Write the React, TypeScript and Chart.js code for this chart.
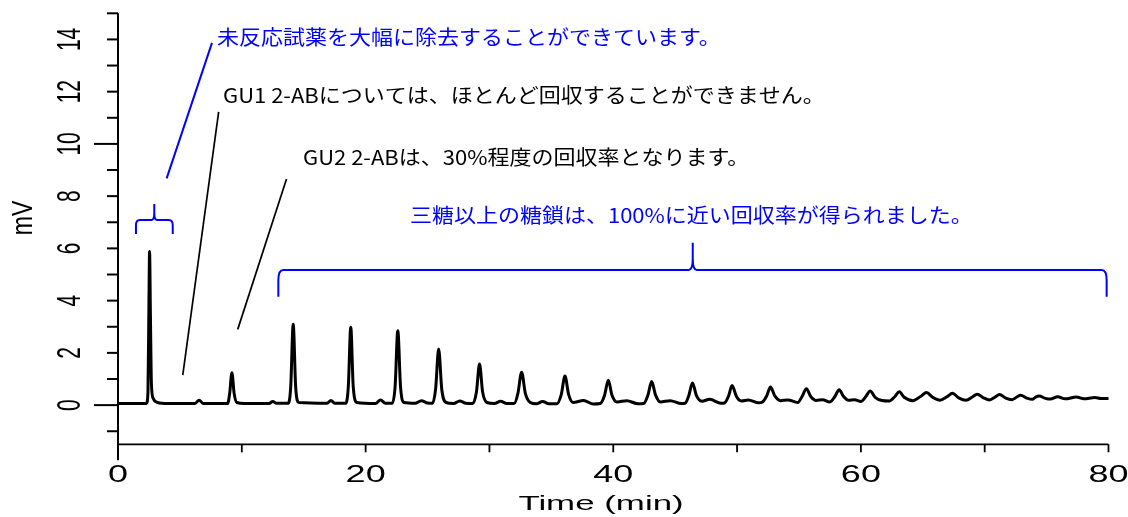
import React, { useEffect, useRef } from "react";
import { Chart, registerables } from "chart.js";

Chart.register(...registerables);

// ---- chromatogram data (time in min, signal in mV) ----
const timeMin = [
  0, 2.3, 2.42, 2.5, 2.55, 2.62, 2.7, 2.85, 3.2, 4.0,
  6.2, 6.55, 6.9, 8.85, 9.02, 9.2, 9.38, 9.6, 10.2,
  12.2, 12.5, 12.8, 13.75, 13.95, 14.15, 14.35, 14.6,
  16.9, 17.2, 17.5, 18.4, 18.6, 18.8, 19.0, 19.3,
  20.8, 21.2, 21.6, 22.15, 22.38, 22.6, 22.82, 23.1,
  24.0, 24.5, 25.0, 25.4, 25.65, 25.9, 26.15, 26.5,
  27.1, 27.6, 28.1, 28.65, 28.95, 29.2, 29.45, 29.8,
  30.4, 30.9, 31.4, 32.0, 32.3, 32.6, 32.9, 33.3,
  33.8, 34.3, 34.8, 35.45, 35.8, 36.1, 36.4, 36.75,
  37.6, 38.4, 38.95, 39.3, 39.6, 39.9, 40.3,
  41.1, 42.0, 42.45, 42.8, 43.1, 43.42, 43.8,
  44.6, 45.5, 45.8, 46.1, 46.4, 46.72, 47.15,
  47.8, 48.7, 49.0, 49.3, 49.6, 49.95, 50.35,
  50.9, 51.75, 52.05, 52.4, 52.7, 53.05, 53.5,
  54.1, 54.9, 55.25, 55.6, 55.95, 56.4,
  56.9, 57.5, 57.9, 58.25, 58.6, 59.0,
  59.5, 60.0, 60.4, 60.75, 61.15, 61.7,
  62.3, 62.75, 63.1, 63.5, 64.2, 64.85, 65.3, 65.8, 66.4,
  66.95, 67.4, 67.9, 68.5, 69.0, 69.4, 69.9, 70.4,
  70.85, 71.2, 71.7, 72.2, 72.6, 72.9, 73.4, 73.85,
  74.1, 74.4, 74.9, 75.3, 75.9, 76.5, 77.4, 78.0, 78.9, 79.4, 80.0,
];
const signalMv = [
  0.06, 0.06, 0.5, 4.0, 5.88, 3.4, 0.8, 0.25, 0.1, 0.06,
  0.06, 0.19, 0.06, 0.06, 0.45, 1.24, 0.45, 0.1, 0.06,
  0.06, 0.14, 0.07, 0.07, 0.7, 3.1, 0.7, 0.1,
  0.07, 0.18, 0.07, 0.07, 0.7, 2.98, 0.7, 0.1,
  0.06, 0.2, 0.07, 0.07, 0.7, 2.85, 0.7, 0.1,
  0.07, 0.17, 0.08, 0.07, 0.6, 2.15, 0.6, 0.1,
  0.06, 0.16, 0.07, 0.06, 0.5, 1.57, 0.5, 0.1,
  0.06, 0.15, 0.06, 0.06, 0.45, 1.26, 0.45, 0.1,
  0.05, 0.14, 0.05, 0.05, 0.4, 1.11, 0.4, 0.1,
  0.18, 0.04, 0.06, 0.38, 0.95, 0.38, 0.12,
  0.17, 0.05, 0.06, 0.38, 0.9, 0.38, 0.12,
  0.17, 0.06, 0.07, 0.36, 0.85, 0.36, 0.15,
  0.22, 0.07, 0.09, 0.33, 0.75, 0.33, 0.16,
  0.2, 0.09, 0.12, 0.36, 0.69, 0.35, 0.17,
  0.2, 0.1, 0.33, 0.63, 0.33, 0.18,
  0.21, 0.12, 0.33, 0.59, 0.33, 0.19,
  0.21, 0.14, 0.33, 0.54, 0.3, 0.18,
  0.16, 0.33, 0.51, 0.3, 0.17, 0.34, 0.48, 0.3, 0.19,
  0.32, 0.45, 0.28, 0.19, 0.31, 0.42, 0.28, 0.2,
  0.31, 0.41, 0.27, 0.21, 0.31, 0.38, 0.27, 0.22,
  0.3, 0.35, 0.26, 0.23, 0.32, 0.24, 0.31, 0.24, 0.29, 0.25, 0.25,
];

// ---- axes ----
const X_MIN = 0;
const X_MAX = 80;
const Y_MIN = -1.5;
const Y_MAX = 15;
const xTickValues = [0, 10, 20, 30, 40, 50, 60, 70, 80];
const xTickLabels = ["0", "20", "40", "60", "80"];
const xLabelValues = [0, 20, 40, 60, 80];
const yTickValues = [-1, 0, 1, 2, 3, 4, 5, 6, 7, 8, 9, 10, 11, 12, 13, 14, 15];
const yLongTickValues = [0, 10];
const yLabelValues = [0, 2, 4, 6, 8, 10, 12, 14];
const yTickLabels = ["0", "2", "4", "6", "8", "10", "12", "14"];
const xTitle = "Time (min)";
const yTitle = "mV";

// ---- annotations (data coordinates) ----
const noteTexts = [
  "未反応試薬を大幅に除去することができています。",
  "GU1 2-ABについては、ほとんど回収することができません。",
  "GU2 2-ABは、30%程度の回収率となります。",
  "三糖以上の糖鎖は、100%に近い回収率が得られました。",
];
const noteColors = ["#0000ff", "#000000", "#000000", "#0000ff"];
const noteT = [8.0, 8.48, 14.94, 23.58];
const noteV = [13.78, 11.55, 9.19, 6.97];

// leader lines: [t1, v1, t2, v2]
const leaderLines = [
  [3.93, 8.68, 7.59, 13.87],
  [5.23, 1.15, 8.13, 11.23],
  [9.67, 2.9, 13.61, 8.66],
];
const leaderColors = ["#0000ff", "#000000", "#000000"];

// braces: [tLeft, tCenter, tRight, vLine, vEnds, vTip]
const braces = [
  [1.45, 2.93, 4.42, 7.09, 6.55, 7.7],
  [12.95, 46.42, 79.85, 5.17, 4.15, 6.22],
];

function drawText(
  ctx: CanvasRenderingContext2D,
  text: string,
  x: number,
  y: number,
  sx: number,
  rotate: boolean,
  align: CanvasTextAlign,
  baseline: CanvasTextBaseline
) {
  ctx.save();
  ctx.translate(x, y);
  ctx.scale(sx, 1);
  if (rotate) ctx.rotate(-Math.PI / 2);
  ctx.textAlign = align;
  ctx.textBaseline = baseline;
  ctx.fillText(text, 0, 0);
  ctx.restore();
}

const customPlugin = {
  id: "customAxesAndNotes",
  afterDatasetsDraw(chart: any) {
    const { ctx } = chart;
    const xs = chart.scales.x;
    const ys = chart.scales.y;
    const px = (t: number) => xs.getPixelForValue(t);
    const py = (v: number) => ys.getPixelForValue(v);

    ctx.save();
    ctx.strokeStyle = "#000";
    ctx.fillStyle = "#000";
    ctx.lineCap = "butt";

    const x0 = px(X_MIN);
    const yb = py(Y_MIN);

    // y axis line
    ctx.lineWidth = 2;
    ctx.beginPath();
    ctx.moveTo(x0, py(Y_MAX));
    ctx.lineTo(x0, yb + 16);
    ctx.stroke();

    // y ticks
    yTickValues.forEach((v) => {
      const len = yLongTickValues.includes(v) ? 24 : 11;
      const y = py(v);
      ctx.beginPath();
      ctx.moveTo(x0 - len, y);
      ctx.lineTo(x0, y);
      ctx.stroke();
    });

    // x axis line
    ctx.lineWidth = 1.8;
    ctx.beginPath();
    ctx.moveTo(x0, yb);
    ctx.lineTo(px(X_MAX), yb);
    ctx.stroke();

    // x ticks
    xTickValues.forEach((t) => {
      const x = px(t);
      ctx.beginPath();
      ctx.moveTo(x, yb);
      ctx.lineTo(x, yb + 8);
      ctx.stroke();
    });

    // x tick labels
    ctx.font = '24px "Liberation Sans", Arial, sans-serif';
    xLabelValues.forEach((t, i) => {
      drawText(ctx, xTickLabels[i], px(t), yb + 38, 1.5, false, "center", "alphabetic");
    });

    // x title
    ctx.font = '21px "Liberation Sans", Arial, sans-serif';
    drawText(ctx, xTitle, 601, yb + 66, 1.66, false, "center", "alphabetic");

    // y tick labels (rotated)
    ctx.font = '21px "Liberation Sans", Arial, sans-serif';
    yLabelValues.forEach((v, i) => {
      drawText(ctx, yTickLabels[i], 80, py(v), 1.55, true, "center", "alphabetic");
    });

    // y title
    ctx.font = '23px "Liberation Sans", Arial, sans-serif';
    drawText(ctx, yTitle, 32, 218, 1.3, true, "center", "alphabetic");

    // leader lines
    leaderLines.forEach((l, i) => {
      ctx.strokeStyle = leaderColors[i];
      ctx.lineWidth = i === 0 ? 2 : 1.7;
      ctx.beginPath();
      ctx.moveTo(px(l[0]), py(l[1]));
      ctx.lineTo(px(l[2]), py(l[3]));
      ctx.stroke();
    });

    // braces
    ctx.strokeStyle = "#0000ff";
    ctx.lineWidth = 2;
    ctx.lineJoin = "round";
    braces.forEach((b, i) => {
      const L = px(b[0]);
      const C = px(b[1]);
      const R = px(b[2]);
      const H = py(b[3]);
      const E = py(b[4]);
      const T = py(b[5]);
      const rx = i === 0 ? 4 : 5;
      const ry = i === 0 ? 5 : 10;
      const cx = i === 0 ? 3 : 4;
      const cy = i === 0 ? 7 : 12;
      ctx.beginPath();
      ctx.moveTo(L, E);
      ctx.lineTo(L, H + ry);
      ctx.quadraticCurveTo(L, H, L + rx, H);
      ctx.lineTo(C - cx, H);
      ctx.quadraticCurveTo(C, H, C, H - cy);
      ctx.lineTo(C, T);
      ctx.moveTo(C, H - cy);
      ctx.quadraticCurveTo(C, H, C + cx, H);
      ctx.lineTo(R - rx, H);
      ctx.quadraticCurveTo(R, H, R, H + ry);
      ctx.lineTo(R, E);
      ctx.stroke();
    });

    // note texts
    ctx.font = '20px "Noto Sans CJK JP", sans-serif';
    noteTexts.forEach((txt, i) => {
      ctx.fillStyle = noteColors[i];
      drawText(ctx, txt, px(noteT[i]), py(noteV[i]), 1.1, false, "left", "alphabetic");
    });

    ctx.restore();
  },
};

export default function App() {
  const canvasRef = useRef<HTMLCanvasElement | null>(null);

  useEffect(() => {
    document.body.style.margin = "0";
    const canvas = canvasRef.current;
    if (!canvas) return;
    const points = timeMin.map((t, i) => ({ x: t, y: signalMv[i] }));
    const chart = new Chart(canvas, {
      type: "line",
      data: {
        datasets: [
          {
            data: points,
            borderColor: "#000000",
            borderWidth: 3,
            pointRadius: 0,
            fill: false,
            cubicInterpolationMode: "monotone",
            borderJoinStyle: "round",
            borderCapStyle: "round",
          },
        ],
      },
      options: {
        responsive: false,
        animation: false,
        devicePixelRatio: 1,
        layout: { padding: { left: 118, right: 19.5, top: 13.3, bottom: 72.7 } },
        plugins: { legend: { display: false }, tooltip: { enabled: false } },
        scales: {
          x: { type: "linear", min: X_MIN, max: X_MAX, display: false },
          y: { type: "linear", min: Y_MIN, max: Y_MAX, display: false },
        },
      },
      plugins: [customPlugin],
    });
    return () => chart.destroy();
  }, []);

  return (
    <div style={{ position: "fixed", left: 0, top: 0, width: 1128, height: 517, background: "#fff" }}>
      <canvas ref={canvasRef} width={1128} height={517} />
    </div>
  );
}
